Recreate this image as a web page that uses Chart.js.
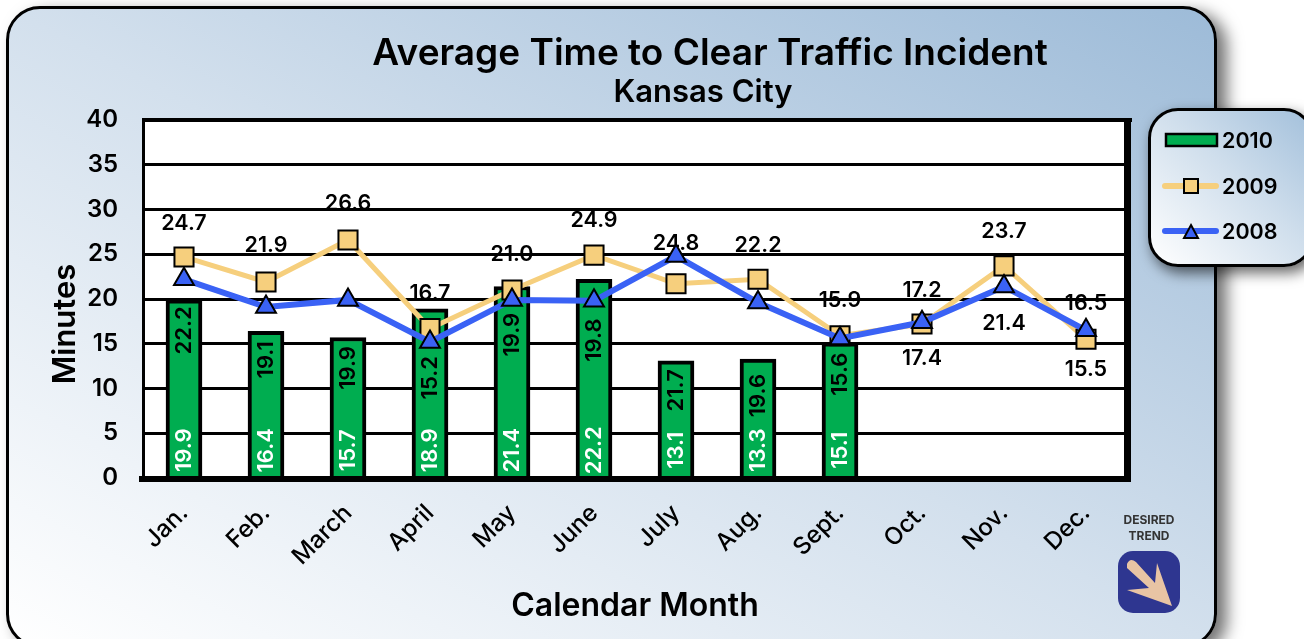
<!DOCTYPE html>
<html>
<head>
	<meta charset="utf-8">
	<title>Average Time to Clear Traffic Incident</title>
	<script src="https://cdn.jsdelivr.net/npm/chart.js"></script>
	<style>
		html, body { margin: 0; padding: 0; width: 1304px; height: 639px; overflow: hidden; background: #fff; font-family: Inter, sans-serif; color: #000; }
		#card { position: absolute; left: 6px; top: 6px; width: 1205px; height: 636px; border: 3px solid #000; border-radius: 34px;
			background: linear-gradient(to top right, #ffffff 0%, #d3e0ed 50%, #9dbbd8 100%); box-shadow: 10px 6px 16px rgba(0,0,0,.55); }
		#c { position: absolute; left: 0; top: 0; }
		.title { position: absolute; left: 310px; width: 800px; text-align: center; white-space: nowrap; font-weight: 600; }
		#t1 { top: 29px; font-size: 37px; }
		#t2 { top: 72px; font-size: 31px; margin-left: -7px; }
		#legend { position: absolute; left: 1148px; top: 108px; width: 160px; height: 153px; border: 3px solid #000; border-radius: 30px;
			background: linear-gradient(to top right, #ffffff 0%, #cfdeec 55%, #a3c0db 100%); box-shadow: 4px 6px 14px rgba(0,0,0,.6); }
		#legend svg { position: absolute; left: 0; top: 0; }
		#legend span { position: absolute; left: 71px; font-size: 21.5px; font-weight: 600; line-height: 28px; }
		#trend { position: absolute; left: 1099px; top: 512px; width: 100px; text-align: center; font-size: 12px; line-height: 16px; font-weight: 700; color: #333; }
		#arrow { position: absolute; left: 1118px; top: 551px; }
	</style>
</head>
<body>
	<div id="card"></div>
	<canvas id="c" width="1304" height="639"></canvas>
	<div class="title" id="t1">Average Time to Clear Traffic Incident</div>
	<div class="title" id="t2">Kansas City</div>

	<div id="legend">
		<svg width="160" height="153">
			<rect x="15" y="23" width="51" height="12" fill="#00ad50" stroke="#000" stroke-width="2.5"/>
			<line x1="14" y1="75" x2="65" y2="75" stroke="#f6cf7d" stroke-width="6" stroke-linecap="round"/>
			<rect x="33" y="68" width="14" height="14" fill="#f6cf7d" stroke="#000" stroke-width="2"/>
			<line x1="14" y1="120" x2="65" y2="120" stroke="#3a62f5" stroke-width="6" stroke-linecap="round"/>
			<polygon points="40,114 47,127 33,127" fill="#3a62f5" stroke="#000" stroke-width="2"/>
		</svg>
		<span style="top:15px">2010</span>
		<span style="top:61px">2009</span>
		<span style="top:106px">2008</span>
	</div>

	<div id="trend">DESIRED<br>TREND</div>
	<svg id="arrow" width="62" height="62" viewBox="0 0 62 62">
		<rect width="62" height="62" rx="15" fill="#2e3690"/>
		<path d="M9 13 Q12 6 18 11 L37 32 L39 12 L54 55 L9 39 L31 37 L9 17 Z" fill="#e8c4a4"/>
	</svg>

	<script>
		const months = ['Jan.', 'Feb.', 'March', 'April', 'May', 'June', 'July', 'Aug.', 'Sept.', 'Oct.', 'Nov.', 'Dec.'];
		const values2010 = [19.9, 16.4, 15.7, 18.9, 21.4, 22.2, 13.1, 13.3, 15.1];
		const values2009 = [24.7, 21.9, 26.6, 16.7, 21.0, 24.9, 21.7, 22.2, 15.9, 17.2, 23.7, 15.5];
		const values2008 = [22.2, 19.1, 19.9, 15.2, 19.9, 19.8, 24.8, 19.6, 15.6, 17.4, 21.4, 16.5];
		const yTicks = [0, 5, 10, 15, 20, 25, 30, 35, 40];

		const fontFamily = 'Inter, sans-serif';

		// where each line label sits: px offset from its point, or 'v' + axis value for the upright ones in the bars
		const place2009 = [-33, -36, -36, -35, -36, -35, 'v9.8', -34, -35, -34, -34, 30];
		const place2008 = ['v16.5', 'v13.2', 'v12.3', 'v11.2', 'v16', 'v15.4', -13, 'v9.2', 'v11.6', 36, 37, -27];

		function text(ctx, str, x, y, color, size, rotate, weight) {
			ctx.save();
			ctx.translate(x, y);
			if (rotate) ctx.rotate(-Math.PI / 2);
			ctx.font = (weight || '600') + ' ' + size + 'px ' + fontFamily;
			ctx.fillStyle = color;
			ctx.textAlign = 'center';
			ctx.textBaseline = 'middle';
			ctx.fillText(str, 0, 0);
			ctx.restore();
		}

		function drawLineLabels(chart, upright) {
			const ctx = chart.ctx;
			const sets = [[values2009, place2009, 1], [values2008, place2008, 2]];
			sets.forEach(function (set) {
				const meta = chart.getDatasetMeta(set[2]);
				set[0].forEach(function (v, i) {
					const p = set[1][i];
					const isV = typeof p === 'string';
					if (isV !== upright) return;
					const pt = meta.data[i];
					if (isV) text(ctx, v.toFixed(1), pt.x, chart.scales.y.getPixelForValue(parseFloat(p.slice(1))), '#000', 22, true);
					else text(ctx, v.toFixed(1), pt.x, pt.y + p, '#000', 21.5, false);
				});
			});
		}

		const panelPlugin = {
			id: 'panel',
			// white plot and the horizontal labels go under the grid lines, as in the original
			beforeDraw(chart) {
				const a = chart.chartArea;
				chart.ctx.fillStyle = '#fff';
				chart.ctx.fillRect(a.left, a.top, a.width, a.bottom - a.top);
				drawLineLabels(chart, false);
			},
			afterDatasetsDraw(chart) {
				const ctx = chart.ctx;
				const a = chart.chartArea;
				// bars values at the foot of each bar
				const meta = chart.getDatasetMeta(0);
				values2010.forEach(function (v, i) {
					text(ctx, v.toFixed(1), meta.data[i].x, chart.scales.y.getPixelForValue(3.1), '#fff', 22, true);
				});
				drawLineLabels(chart, true);
				// plot frame
				ctx.fillStyle = '#000';
				ctx.fillRect(a.left - 1, a.top - 2, a.width + 6, 4);
				ctx.fillRect(a.left - 1, a.top - 2, 3, a.bottom - a.top + 6);
				ctx.fillRect(a.right - 3, a.top - 2, 7, a.bottom - a.top + 6);
				ctx.fillRect(a.left - 4, a.bottom - 2, a.width + 8, 6);
			},
			afterDraw(chart) {
				text(chart.ctx, 'Minutes', 66, 324, '#000', 31, true);
			}
		};

		new Chart(document.getElementById('c'), {
			data: {
				labels: months,
				datasets: [
					{ type: 'bar', label: '2010', data: values2010, order: 3, backgroundColor: '#00ad50', borderColor: '#000', borderWidth: 4, barThickness: 36 },
					{ type: 'line', label: '2009', data: values2009, order: 2, borderColor: '#f6cf7d', borderWidth: 5, tension: 0, pointStyle: 'rect', pointRadius: 13.5, pointBackgroundColor: '#f6cf7d', pointBorderColor: '#000', pointBorderWidth: 2 },
					{ type: 'line', label: '2008', data: values2008, order: 1, borderColor: '#3a62f5', borderWidth: 6, tension: 0, pointStyle: 'triangle', pointRadius: 11.5, pointBackgroundColor: '#3a62f5', pointBorderColor: '#000', pointBorderWidth: 2 }
				]
			},
			options: {
				responsive: false,
				animation: false,
				layout: { padding: { top: 120, right: 177, left: 0, bottom: 0 } },
				plugins: { legend: { display: false }, title: { display: false }, tooltip: { enabled: false } },
				scales: {
					x: {
						grid: { display: false },
						border: { display: false },
						afterFit(scale) { scale.height = 161; },
						ticks: { color: '#000', font: { family: fontFamily, size: 24, weight: '500' }, minRotation: 45, maxRotation: 45, padding: 13 },
						title: { display: true, text: 'Calendar Month', color: '#000', font: { family: fontFamily, size: 32, weight: '600' }, padding: { top: 0, bottom: 13 } }
					},
					y: {
						min: 0,
						max: 40,
						afterBuildTicks(scale) { scale.ticks = yTicks.map(function (v) { return { value: v }; }); },
						afterFit(scale) { scale.width = 143; },
						grid: { color: '#000', lineWidth: 3, drawTicks: false },
						border: { display: false },
						ticks: { color: '#000', font: { family: fontFamily, size: 24, weight: '600' }, padding: 25 }
					}
				}
			},
			plugins: [panelPlugin]
		});
	</script>
</body>
</html>
